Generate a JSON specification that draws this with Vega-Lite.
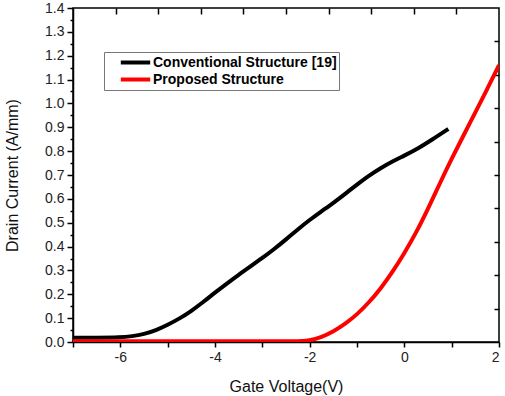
{
  "$schema": "https://vega.github.io/schema/vega-lite/v6.json",
  "autosize": "none",
  "width": 426,
  "height": 334,
  "padding": {"left": 73, "top": 8, "right": 6, "bottom": 54},
  "background": "white",
  "config": {
    "view": {"stroke": "#000000", "strokeWidth": 1.5},
    "axis": {
      "domainColor": "#000000",
      "domainWidth": 1.5,
      "tickColor": "#000000",
      "tickWidth": 1.5,
      "ticks": true,
      "grid": false,
      "labelFont": "Liberation Sans",
      "labelFontSize": 14,
      "labelColor": "#222222",
      "titleFont": "Liberation Sans",
      "titleFontSize": 16,
      "titleFontWeight": "normal",
      "titleColor": "#111111",
      "labelOverlap": false
    }
  },
  "data": {
    "values": [
      {"v": -7.0, "i": 0.018, "s": "Conventional Structure [19]"},
      {"v": -6.5, "i": 0.018, "s": "Conventional Structure [19]"},
      {"v": -6.0, "i": 0.019, "s": "Conventional Structure [19]"},
      {"v": -5.75, "i": 0.024, "s": "Conventional Structure [19]"},
      {"v": -5.5, "i": 0.033, "s": "Conventional Structure [19]"},
      {"v": -5.25, "i": 0.049, "s": "Conventional Structure [19]"},
      {"v": -5.0, "i": 0.072, "s": "Conventional Structure [19]"},
      {"v": -4.75, "i": 0.098, "s": "Conventional Structure [19]"},
      {"v": -4.5, "i": 0.13, "s": "Conventional Structure [19]"},
      {"v": -4.25, "i": 0.167, "s": "Conventional Structure [19]"},
      {"v": -4.0, "i": 0.207, "s": "Conventional Structure [19]"},
      {"v": -3.75, "i": 0.245, "s": "Conventional Structure [19]"},
      {"v": -3.5, "i": 0.282, "s": "Conventional Structure [19]"},
      {"v": -3.25, "i": 0.317, "s": "Conventional Structure [19]"},
      {"v": -3.0, "i": 0.352, "s": "Conventional Structure [19]"},
      {"v": -2.75, "i": 0.389, "s": "Conventional Structure [19]"},
      {"v": -2.5, "i": 0.43, "s": "Conventional Structure [19]"},
      {"v": -2.25, "i": 0.472, "s": "Conventional Structure [19]"},
      {"v": -2.0, "i": 0.512, "s": "Conventional Structure [19]"},
      {"v": -1.75, "i": 0.548, "s": "Conventional Structure [19]"},
      {"v": -1.5, "i": 0.583, "s": "Conventional Structure [19]"},
      {"v": -1.25, "i": 0.621, "s": "Conventional Structure [19]"},
      {"v": -1.0, "i": 0.66, "s": "Conventional Structure [19]"},
      {"v": -0.75, "i": 0.697, "s": "Conventional Structure [19]"},
      {"v": -0.5, "i": 0.729, "s": "Conventional Structure [19]"},
      {"v": -0.25, "i": 0.757, "s": "Conventional Structure [19]"},
      {"v": 0.0, "i": 0.781, "s": "Conventional Structure [19]"},
      {"v": 0.3, "i": 0.812, "s": "Conventional Structure [19]"},
      {"v": 0.6, "i": 0.85, "s": "Conventional Structure [19]"},
      {"v": 0.93, "i": 0.893, "s": "Conventional Structure [19]"},
      {"v": -7.0, "i": 0.003, "s": "Proposed Structure"},
      {"v": -5.0, "i": 0.003, "s": "Proposed Structure"},
      {"v": -3.0, "i": 0.003, "s": "Proposed Structure"},
      {"v": -2.3, "i": 0.003, "s": "Proposed Structure"},
      {"v": -2.0, "i": 0.006, "s": "Proposed Structure"},
      {"v": -1.75, "i": 0.02, "s": "Proposed Structure"},
      {"v": -1.5, "i": 0.044, "s": "Proposed Structure"},
      {"v": -1.25, "i": 0.076, "s": "Proposed Structure"},
      {"v": -1.0, "i": 0.115, "s": "Proposed Structure"},
      {"v": -0.75, "i": 0.165, "s": "Proposed Structure"},
      {"v": -0.5, "i": 0.224, "s": "Proposed Structure"},
      {"v": -0.25, "i": 0.293, "s": "Proposed Structure"},
      {"v": 0.0, "i": 0.372, "s": "Proposed Structure"},
      {"v": 0.25, "i": 0.458, "s": "Proposed Structure"},
      {"v": 0.5, "i": 0.558, "s": "Proposed Structure"},
      {"v": 0.75, "i": 0.665, "s": "Proposed Structure"},
      {"v": 1.0, "i": 0.768, "s": "Proposed Structure"},
      {"v": 1.25, "i": 0.866, "s": "Proposed Structure"},
      {"v": 1.5, "i": 0.962, "s": "Proposed Structure"},
      {"v": 1.75, "i": 1.06, "s": "Proposed Structure"},
      {"v": 2.0, "i": 1.16, "s": "Proposed Structure"}
    ]
  },
  "layer": [
    {
      "mark": {"type": "line", "strokeWidth": 4, "interpolate": "basis", "clip": true},
      "encoding": {
        "x": {
          "field": "v", "type": "quantitative",
          "scale": {"domain": [-7, 2], "nice": false, "zero": false},
          "axis": {
            "orient": "bottom",
            "title": "Gate Voltage(V)",
            "values": [-7, -6, -5, -4, -3, -2, -1, 0, 1, 2],
            "labelExpr": "datum.value % 2 == 0 ? '' + datum.value : ''",
            "tickSize": 5,
            "labelPadding": 3,
            "titlePadding": 14
          }
        },
        "y": {
          "field": "i", "type": "quantitative",
          "scale": {"domain": [0, 1.4], "nice": false, "zero": true},
          "axis": {
            "orient": "left",
            "title": "Drain Current (A/mm)",
            "values": [0, 0.05, 0.1, 0.15, 0.2, 0.25, 0.3, 0.35, 0.4, 0.45, 0.5, 0.55, 0.6, 0.65, 0.7, 0.75, 0.8, 0.85, 0.9, 0.95, 1.0, 1.05, 1.1, 1.15, 1.2, 1.25, 1.3, 1.35, 1.4],
            "labelExpr": "round(datum.value*20) % 2 == 0 ? format(datum.value, '.1f') : ''",
            "tickSize": {"condition": {"test": "round(datum.value*20) % 2 == 0", "value": 6}, "value": 3},
            "labelPadding": 3,
            "titlePadding": 24
          }
        },
        "color": {
          "field": "s", "type": "nominal",
          "scale": {"domain": ["Conventional Structure [19]", "Proposed Structure"], "range": ["#000000", "#ff0000"]},
          "legend": {
            "title": null,
            "orient": "none",
            "legendX": 31,
            "legendY": 44,
            "symbolType": "M-2.4,0H2.4",
            "symbolStrokeWidth": 4,
            "symbolSize": 150,
            "labelFont": "Liberation Sans",
            "labelFontWeight": "bold",
            "labelFontSize": 14,
            "labelColor": "#000000",
            "labelLimit": 400,
            "labelOffset": 9,
            "padding": 2,
            "rowPadding": 0,
            "symbolOffset": 21,
            "strokeColor": "#777777",
            "fillColor": "#ffffff"
          }
        }
      }
    },
    {
      "mark": {"type": "line", "strokeOpacity": 0},
      "encoding": {
        "x": {
          "field": "v", "type": "quantitative",
          "axis": {
            "orient": "top",
            "title": null,
            "labels": false,
            "domain": false,
            "offset": -6,
            "values": [-6.1, -5.2, -4.3, -3.4, -2.5, -1.6, -0.7, 0.2, 1.1],
            "tickSize": 6
          }
        },
        "y": {
          "field": "i", "type": "quantitative",
          "axis": {
            "orient": "right",
            "title": null,
            "labels": false,
            "domain": false,
            "offset": -5,
            "values": [0.14, 0.28, 0.42, 0.56, 0.7, 0.84, 0.98, 1.12, 1.26],
            "tickSize": 5
          }
        }
      }
    }
  ],
  "resolve": {"axis": {"x": "independent", "y": "independent"}}
}
